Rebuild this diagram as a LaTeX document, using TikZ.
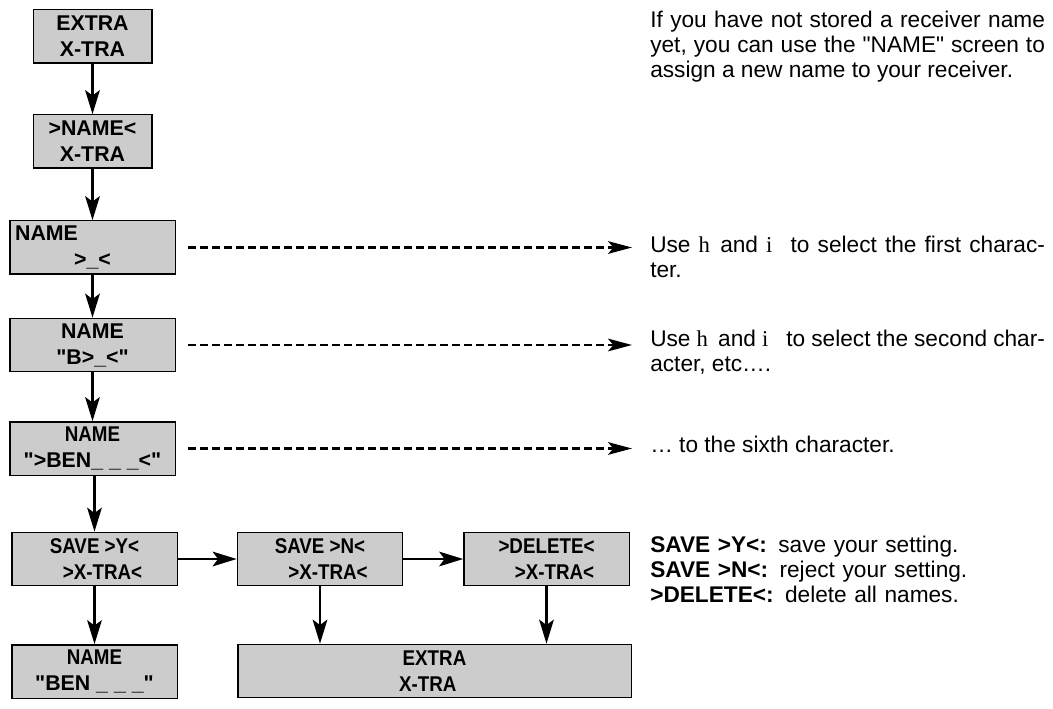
\documentclass[tikz,border=0pt]{standalone}
\usepackage{fontspec}
\setmainfont{Liberation Sans}
\newfontfamily\condfont[FakeStretch=0.88]{Liberation Sans}
\newfontfamily\keyfont{Liberation Serif}
\usetikzlibrary{arrows.meta}
\definecolor{lcdgray}{HTML}{CCCCCC}
\newcommand\qm{\textquotedbl}

\tikzset{
  screen/.style={draw=black,fill=lcdgray,line width=1pt,inner sep=0pt,minimum height=40pt,align=center,font=\fontsize{16}{19.5}\selectfont\bfseries},
  narrow/.style={screen,minimum width=89pt},
  wide/.style={screen,minimum width=124pt},
  slim/.style={font=\fontsize{16}{19.5}\selectfont\condfont\bfseries},
  flow/.style={line width=1.6pt,-{Stealth[length=18pt,width=11pt,inset=4pt]}},
  hint/.style={line width=1.6pt,dash pattern=on 6pt off 3pt,-{Stealth[length=18pt,width=9.5pt,inset=4pt]}},
  note/.style={anchor=base west,inner sep=0pt,text width=296pt,align=justify,font=\fontsize{17}{18.75}\selectfont}
}

\begin{document}
\begin{tikzpicture}[x=0.75pt,y=-0.75pt]
  \useasboundingbox (0,0) rectangle (1053,709);
  % display screens
  \node[narrow] (extra) at (92.5,36.5) {EXTRA\\X-TRA};
  \node[narrow] (namesel) at (92.5,141.5) {>NAME<\\X-TRA};
  \node[wide,text width=116pt,inner xsep=4pt] (namefirst) at (92.5,247.5) {NAME\hfill\null\\>\_<};
  \node[wide] (namesecond) at (92.5,345) {NAME\\\qm B>\_<\qm};
  \node[wide] (namesixth) at (92.5,448.5) {{\condfont NAME}\\\qm>BEN\_ \_ \_<\qm};
  \node[wide,slim] (savey) at (94.5,559) {SAVE >Y<\\\hspace*{12pt}>X-TRA<};
  \node[wide] (stored) at (94.5,671.5) {{\condfont NAME}\\\qm BEN \_ \_ \_\qm};
  \node[wide,slim] (saven) at (320,559) {SAVE >N<\\\hspace*{12pt}>X-TRA<};
  \node[wide,slim] (delete) at (546.5,559) {>DELETE<\\\hspace*{12pt}>X-TRA<};
  \node[screen,slim,minimum width=295pt] (leave) at (434.5,671) {EXTRA\\X-TRA\hspace*{10pt}};

  % explanations
  \node[note] (intro) at (650,28) {If you have not stored a receiver name\linebreak yet, you can use the \qm NAME\qm{} screen to\linebreak assign a new name to your receiver.};
  \node[note] (first) at (650,253) {Use {\keyfont h}\hspace{.45em}and {\keyfont i}\hspace{.8em}to select the first charac-\linebreak ter.};
  \node[note] (second) at (650,346) {Use {\keyfont h}\hspace{.45em}and {\keyfont i}\hspace{.8em}to select the second char-\linebreak acter, etc….};
  \node[note] (sixth) at (650,452) {… to the sixth character.};
  \node[note,align=left] (keys) at (650,552) {\textbf{SAVE >Y<:} save your setting.\\\textbf{SAVE >N<:} reject your setting.\\\textbf{>DELETE<:} delete all names.};

  \coordinate (tipfirst) at (632,247.5);
  \coordinate (tipsecond) at (632,345);
  \coordinate (tipsixth) at (632,448.5);

  % key sequence
  \draw[flow] (extra) -- (namesel);
  \draw[flow] (namesel) -- (namefirst);
  \draw[flow] (namefirst) -- (namesecond);
  \draw[flow] (namesecond) -- (namesixth);
  \draw[flow] (namesixth.south -| savey) -- (savey);
  \draw[flow] (savey) -- (stored);
  \draw[flow] (savey) -- (saven);
  \draw[flow] (saven) -- (delete);
  \draw[flow] (saven) -- (saven |- leave.north);
  \draw[flow] (delete) -- (delete |- leave.north);

  \draw[hint] ([xshift=9pt]namefirst.east) -- (tipfirst);
  \draw[hint] ([xshift=9pt]namesecond.east) -- (tipsecond);
  \draw[hint] ([xshift=9pt]namesixth.east) -- (tipsixth);
\end{tikzpicture}
\end{document}
